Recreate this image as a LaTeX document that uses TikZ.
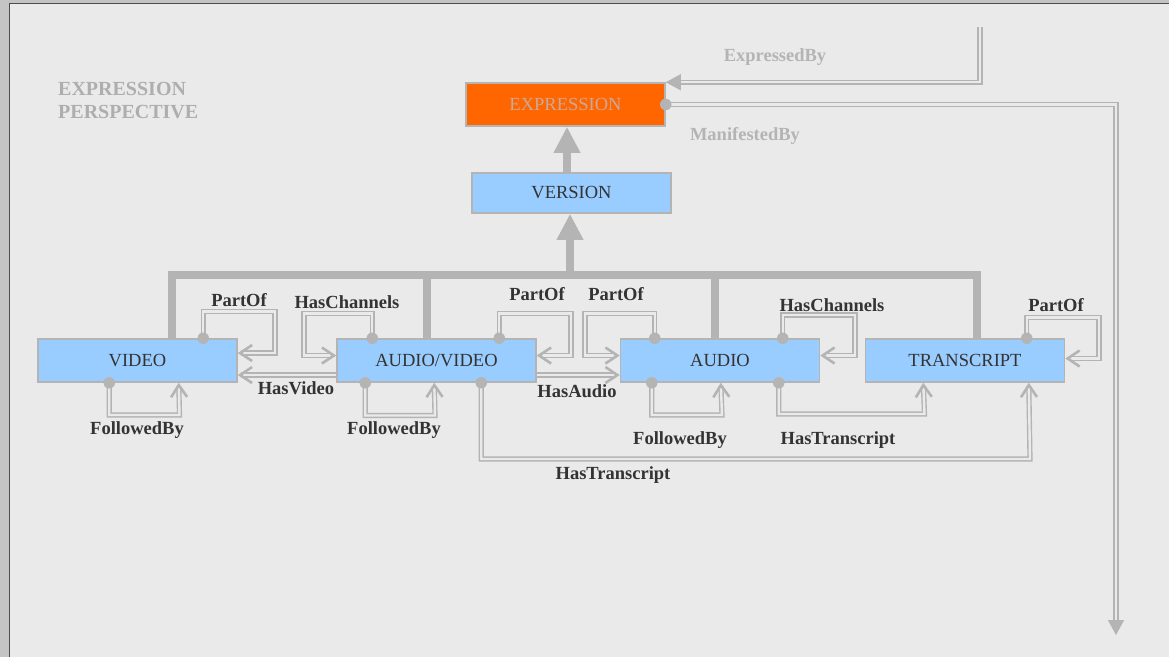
\documentclass[tikz,border=0pt]{standalone}
\usepackage{fontspec}
\setmainfont{Liberation Serif}
\newfontfamily\tnr{Liberation Serif}
\usetikzlibrary{arrows.meta,calc}

\definecolor{bg}{HTML}{EAEAEA}
\definecolor{framec}{HTML}{C4C4C4}
\definecolor{edgec}{HTML}{4D4D4D}
\definecolor{linec}{HTML}{B4B4B4}
\definecolor{boxblue}{HTML}{99CCFF}
\definecolor{boxorange}{HTML}{FF6600}
\definecolor{txt}{HTML}{333333}
\definecolor{exptxt}{RGB}{200,170,155}
\definecolor{titletxt}{HTML}{AEAEAE}

\tikzset{
  box/.style={draw=linec, line width=1.5pt, fill=boxblue, minimum width=199pt,
    minimum height=43pt, inner sep=0pt, text=txt, font=\tnr\fontsize{18.5}{20}\selectfont},
  lbl/.style={text=txt, inner sep=0pt, font=\tnr\bfseries\fontsize{18.5}{20}\selectfont},
  glbl/.style={lbl, text=linec},
  rel/.style={draw=linec, line width=1.4pt, double=bg, double distance=2.4pt,
    -{Straight Barb[length=12pt,width=16pt,line width=2.6pt]}},
  ext/.style={draw=linec, line width=1.4pt, double=bg, double distance=2.4pt,
    -{Triangle[length=15pt,width=16pt]}},
  dot/.style={circle, fill=linec, inner sep=0pt, minimum size=11.5pt},
  tree/.style={draw=linec, line width=8pt, line join=miter},
  inherit/.style={tree, -{Triangle[length=26pt,width=25pt]}},
}

\begin{document}
\begin{tikzpicture}[x=1pt,y=-1pt]
% page and frame
\useasboundingbox (0,0) rectangle (1169,657);
\fill[framec] (0,0) rectangle (1169,657);
\fill[bg] (10,4) rectangle (1169,657);
\draw[edgec, line width=1.3pt] (9.5,657) -- (9.5,3.5) -- (1169,3.5);

% title
\node[anchor=west, align=left, inner sep=0pt, text=titletxt,
  font=\tnr\bfseries\fontsize{20}{23}\selectfont]
  (title) at (58,101) {EXPRESSION\\PERSPECTIVE};

% classes
\node[box, fill=boxorange, text=exptxt] (expression) at (565.5,104.5) {EXPRESSION};
\node[box, minimum height=40pt] (version) at (571.5,193) {VERSION};
\node[box] (video) at (137.5,360.5) {VIDEO};
\node[box] (av) at (436.5,360.5) {AUDIO/VIDEO};
\node[box] (audio) at (720,360.5) {AUDIO};
\node[box] (transcript) at (965,360.5) {TRANSCRIPT};

% specialisation tree
\coordinate (barL) at (172,275);
\coordinate (barR) at (977,275);
\coordinate (barM) at (570,275);
\coordinate (barAV) at (427,275);
\coordinate (barAU) at (715,275);
\coordinate (vx) at (567,0);
\draw[tree] (video.north -| barL) -- (barL) -- (barR) -- (transcript.north -| barR);
\draw[tree] (barAV) -- (av.north -| barAV);
\draw[tree] (barAU) -- (audio.north -| barAU);
\draw[inherit] (barM) -- (version.south -| barM);
\draw[inherit] (version.north -| vx) -- (expression.south -| vx);

% links to and from other perspectives
\coordinate (extIn) at (980,27);
\coordinate (extOut) at (1116,635);
\draw[ext] (extIn) |- (expression.north east);
\draw[ext] (expression.east) node[dot] (d0) {} -| (extOut);
\node[glbl] (lExpressed) at (775,57) {ExpressedBy};
\node[glbl] (lManifested) at (745,136) {ManifestedBy};

% VIDEO
\draw[rel] ($(video.north west)+(166,0)$) node[dot] (d1) {}
  |- (275,311.5) |- ($(video.east)+(0,-7.5)$);
\draw[rel] ($(video.south west)+(72,0)$) node[dot] (d2) {}
  |- (179.5,415) -- ($(video.south west)+(141.5,0)$);
\node[lbl] (lPartOf1) at (239,300) {PartOf};
\node[lbl] (lFollowed1) at (137,430) {FollowedBy};

% AUDIO/VIDEO
\draw[rel] ($(av.north west)+(36,0)$) node[dot] (d3) {}
  |- (304,313.5) |- ($(av.west)+(0,-5)$);
\draw[rel] ($(av.west)+(0,14.5)$) -- ($(video.east)+(0,14.5)$);
\draw[rel] ($(av.south west)+(29,0)$) node[dot] (d4) {}
  |- (435,415.5) -- ($(av.south west)+(98,0)$);
\draw[rel] ($(av.north west)+(163,0)$) node[dot] (d5) {}
  |- (571,313.5) |- ($(av.east)+(0,-5)$);
\draw[rel] ($(av.east)+(0,14.5)$) -- ($(audio.west)+(0,14.5)$);
\draw[rel] ($(av.south west)+(145,0)$) node[dot] (d6) {}
  |- (1030,459) -- ($(transcript.south west)+(164,0)$);
\node[lbl] (lChannels1) at (347,302) {HasChannels};
\node[lbl] (lVideo) at (296,388) {HasVideo};
\node[lbl] (lFollowed2) at (394,430) {FollowedBy};
\node[lbl] (lPartOf2) at (537,294) {PartOf};
\node[lbl] (lAudio) at (577,391) {HasAudio};
\node[lbl] (lTrans2) at (613,475) {HasTranscript};

% AUDIO
\draw[rel] ($(audio.north west)+(35,0)$) node[dot] (d7) {}
  |- (585,313.5) |- ($(audio.west)+(0,-5)$);
\draw[rel] ($(audio.north west)+(163,0)$) node[dot] (d8) {}
  |- (855,315) |- ($(audio.east)+(0,-5)$);
\draw[rel] ($(audio.south west)+(32,0)$) node[dot] (d9) {}
  |- (722,415) -- ($(audio.south west)+(101,0)$);
\draw[rel] ($(audio.south west)+(159,0)$) node[dot] (d10) {}
  |- (924.5,414) -- ($(transcript.south west)+(58.5,0)$);
\node[lbl] (lPartOf3) at (616,294) {PartOf};
\node[lbl] (lChannels2) at (832,305) {HasChannels};
\node[lbl] (lFollowed3) at (680,440) {FollowedBy};
\node[lbl] (lTrans1) at (838,440) {HasTranscript};

% TRANSCRIPT
\draw[rel] ($(transcript.north west)+(162,0)$) node[dot] (d11) {}
  |- (1099,317.5) |- ($(transcript.east)+(0,-2)$);
\node[lbl] (lPartOf4) at (1056,305) {PartOf};
\end{tikzpicture}
\end{document}
